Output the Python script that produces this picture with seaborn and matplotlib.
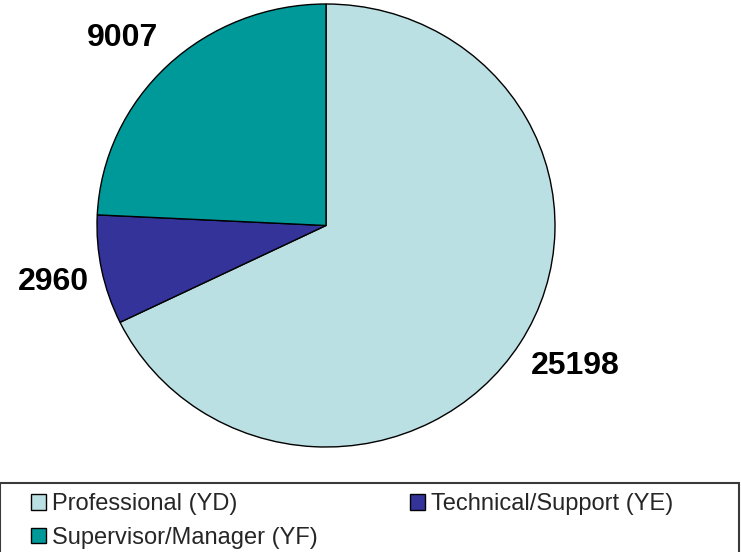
import matplotlib
matplotlib.use('Agg')
import matplotlib.pyplot as plt
import seaborn as sns
from matplotlib.patches import Rectangle

# data
categories = ['Professional (YD)', 'Technical/Support (YE)', 'Supervisor/Manager (YF)']
counts = [25198, 2960, 9007]
colors = ['#BBE0E3', '#333399', '#009999']

# where the value labels sit (pie units), as in the original
label_pos = [(1.09, -0.633), (-1.19, -0.253), (-0.89, 0.847)]

sns.set_theme(style='white')
plt.rcParams['font.family'] = ['Liberation Sans', 'DejaVu Sans']

fig = plt.figure(figsize=(7.41, 5.52), dpi=100)
ax = fig.add_axes([97 / 741, 105 / 552, 458 / 741, 443 / 552])

wedges, texts = ax.pie(
    counts,
    labels=[str(c) for c in counts],
    colors=colors,
    startangle=90,
    counterclock=False,
    labeldistance=1.24,
    wedgeprops=dict(edgecolor='black', linewidth=1),
    textprops=dict(fontsize=23, fontweight='bold', ha='center', va='center', color='black'),
)
for t, pos in zip(texts, label_pos):
    t.set_position(pos)
ax.set_aspect('auto')
ax.set_xlim(-1, 1)
ax.set_ylim(-1, 1)

# legend laid out row-wise like the original (matplotlib fills column-first)
order = [0, 2, 1]
fig.legend(
    [wedges[i] for i in order], [categories[i] for i in order],
    loc='upper left', bbox_to_anchor=(31 / 741, 1 - 493 / 552),
    ncol=2, frameon=False, fontsize=17,
    handlelength=0.64, handleheight=0.64, handletextpad=0.25,
    columnspacing=3.9, labelspacing=0.5, borderpad=0, borderaxespad=0,
)

# legend box runs off the bottom edge
fig.patches.append(Rectangle((0, -0.1), 739 / 741, (552 - 483) / 552 + 0.1,
                             transform=fig.transFigure, fill=False,
                             edgecolor='#3a3a3a', linewidth=1.5))

fig.savefig('out.png', dpi=100)
